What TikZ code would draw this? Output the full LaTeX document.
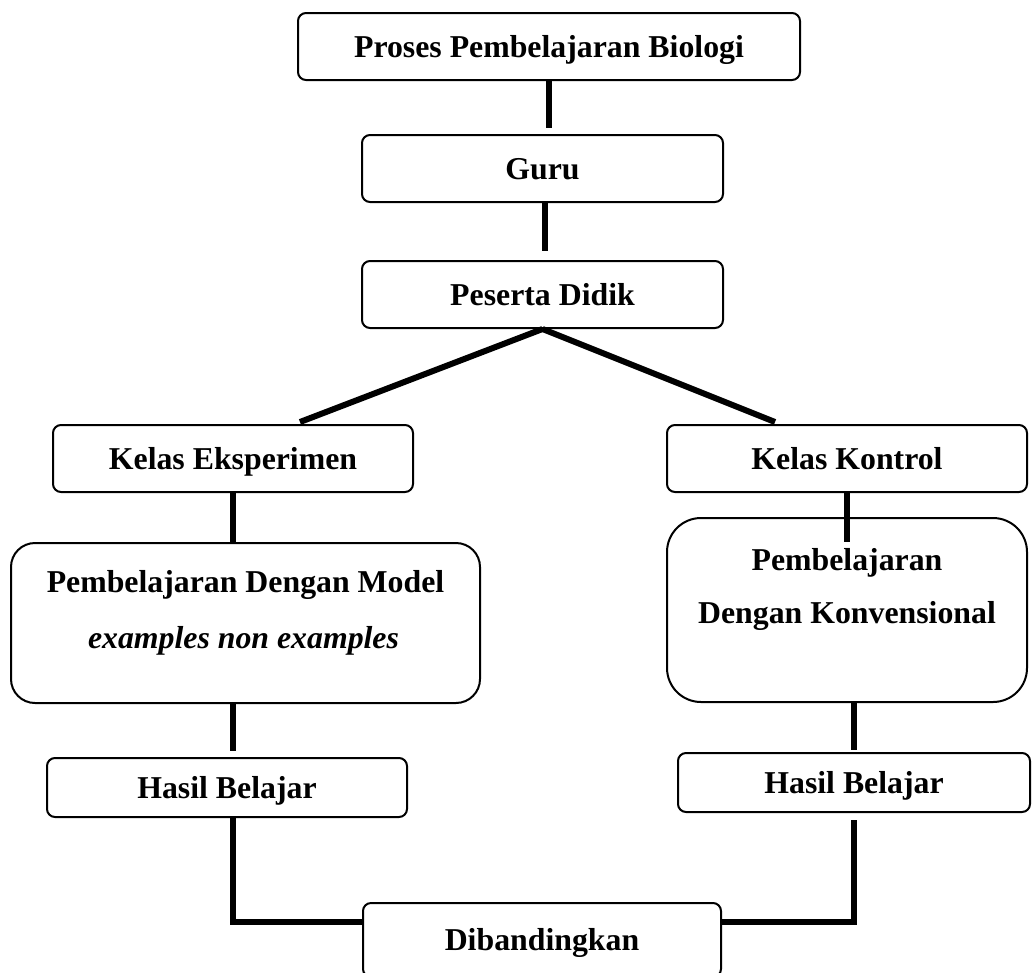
\documentclass[tikz,border=0pt]{standalone}
\usepackage{fontspec}
\setmainfont{Liberation Serif}
\usetikzlibrary{calc}
\begin{document}
\begin{tikzpicture}[x=1pt,y=-1pt,
  box/.style={draw,line width=2pt,rounded corners=8pt,align=center,inner sep=0pt,
    text height=21pt,text depth=0pt,
    font=\fontsize{31.8}{40}\selectfont\bfseries},
  bigbox/.style={draw,line width=2pt,inner sep=0pt},
  txt/.style={align=center,inner sep=0pt,text height=21pt,text depth=0pt,
    font=\fontsize{31.8}{40}\selectfont\bfseries},
  conn/.style={line width=6pt}]
\useasboundingbox (0,0) rectangle (1032,972);
\clip (0,0) rectangle (1032,972);
% nodes
\node[box,minimum width=502pt,minimum height=67pt] (top) at (549,46.5) {Proses Pembelajaran Biologi};
\node[box,minimum width=361pt,minimum height=67pt] (guru) at (542.5,168.5) {Guru};
\node[box,minimum width=361pt,minimum height=67pt] (peserta) at (542.5,294.5) {Peserta Didik};
\node[box,minimum width=360pt,minimum height=67pt] (kelasE) at (233,458.5) {Kelas Eksperimen};
\node[box,minimum width=360pt,minimum height=67pt] (kelasK) at (847,458.5) {Kelas Kontrol};
\node[bigbox,rounded corners=24pt,minimum width=469pt,minimum height=160pt] (pembE) at (245.5,623) {};
\node[txt] (pembE1) at (245.5,582) {Pembelajaran Dengan Model};
\node[txt] (pembE2) at (243.5,638) {\itshape examples non examples};
\node[bigbox,rounded corners=34pt,minimum width=360pt,minimum height=184pt] (pembK) at (847,610) {};
\node[txt] (pembK1) at (847,560) {Pembelajaran};
\node[txt] (pembK2) at (847,613) {Dengan Konvensional};
\node[box,minimum width=360pt,minimum height=59pt] (hasilE) at (227,787.5) {Hasil Belajar};
\node[box,minimum width=352pt,minimum height=59pt] (hasilK) at (854,782.5) {Hasil Belajar};
\node[box,minimum width=358pt,minimum height=74pt] (dib) at (542,940) {Dibandingkan};
% helper coordinates
\coordinate (dibL) at ($(dib.north west)+(0,20)$);
\coordinate (dibR) at ($(dib.north east)+(0,20)$);
\coordinate (endE) at ($(kelasE.north)+(67,-2)$);
\coordinate (endK) at ($(kelasK.north)+(-72,-2)$);
% connectors
\draw[conn,shorten >=6pt] (top.south) -- (top.south |- guru.north);
\draw[conn,shorten >=9pt] ($(guru.south)+(2.5,0)$) -- ($(peserta.north)+(2.5,0)$);
\draw[conn] (peserta.south) -- (endE);
\draw[conn] (peserta.south) -- (endK);
\draw[conn] (kelasE.south) -- (kelasE.south |- pembE.north);
\draw[conn,shorten >=6pt] (kelasE.south |- pembE.south) -- (kelasE.south |- hasilE.north);
\draw[conn] (kelasE.south |- hasilE.south) -- (kelasE.south |- dibL) -- (dibL);
\draw[conn] (kelasK.south) -- ($(kelasK.south |- pembK.north)+(0,25)$);
\draw[conn,shorten >=2pt] (hasilK.north |- pembK.south) -- (hasilK.north);
\draw[conn,shorten <=7pt] (hasilK.south) -- (hasilK.south |- dibR) -- (dibR);
\end{tikzpicture}
\end{document}
